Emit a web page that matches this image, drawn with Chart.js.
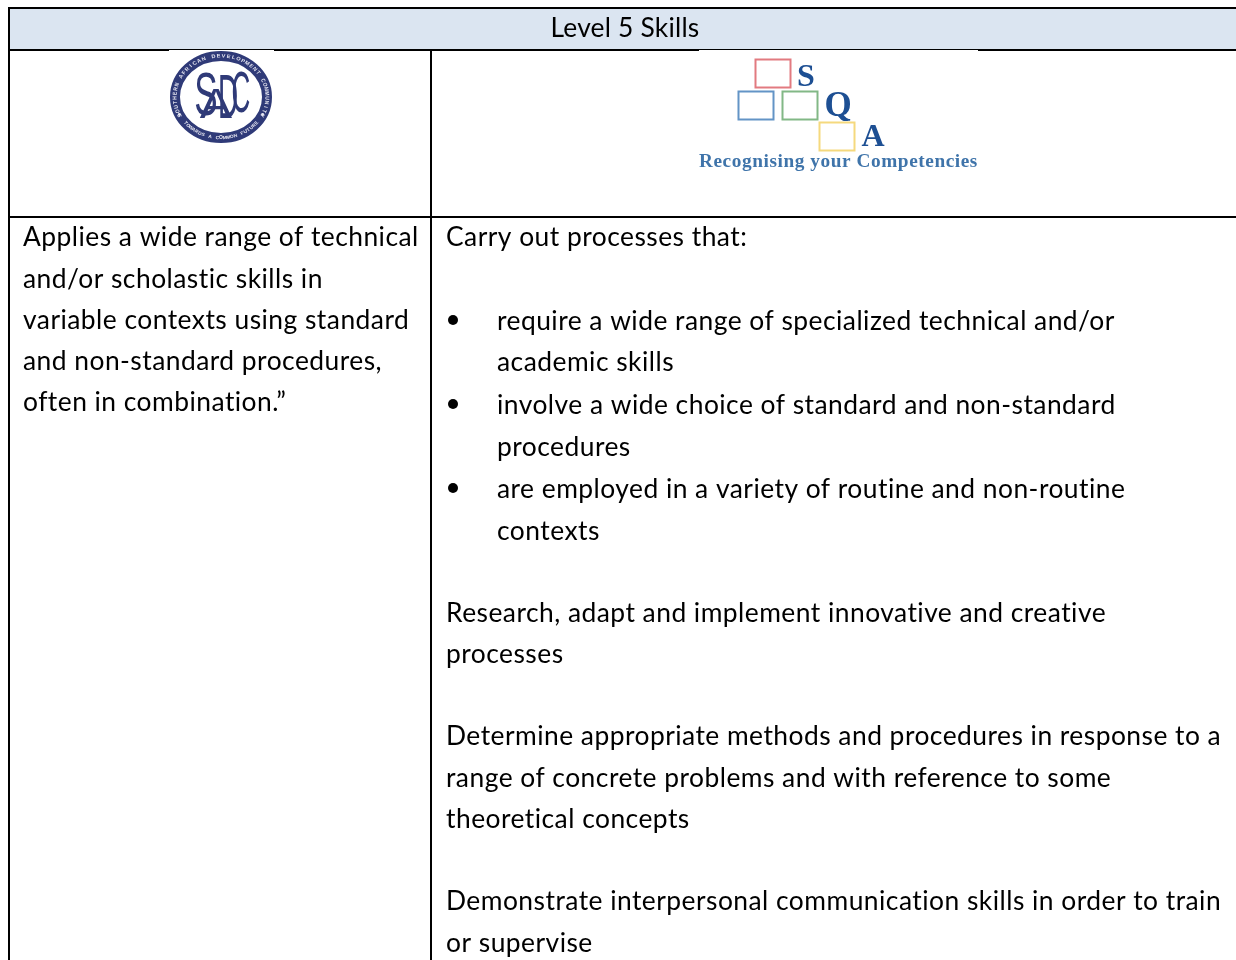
<!DOCTYPE html>
<html>
<head>
<meta charset="utf-8">
<title>Level 5 Skills</title>
<style>
html, body { margin: 0; padding: 0; background: #fff; overflow: hidden; }
#wrap { width: 1236px; height: 960px; }
canvas { display: block; }
</style>
<script src="https://cdn.jsdelivr.net/npm/chart.js@4"></script>
</head>
<body>
<div id="wrap"><canvas id="table" width="1236" height="960"></canvas></div>
<script>
const headerTitle = 'Level 5 Skills';
const leftLines = [
    'Applies a wide range of technical',
    'and/or scholastic skills in',
    'variable contexts using standard',
    'and non-standard procedures,',
    'often in combination.”'
];
const rightLines = [
    'Carry out processes that:',
    'require a wide range of specialized technical and/or',
    'academic skills',
    'involve a wide choice of standard and non-standard',
    'procedures',
    'are employed in a variety of routine and non-routine',
    'contexts',
    'Research, adapt and implement innovative and creative',
    'processes',
    'Determine appropriate methods and procedures in response to a',
    'range of concrete problems and with reference to some',
    'theoretical concepts',
    'Demonstrate interpersonal communication skills in order to train',
    'or supervise'
];
const bulletedLines = [1, 3, 5];
const wrappedLines = [2, 4, 6];
const ringText = 'SOUTHERN AFRICAN DEVELOPMENT COMMUNITY';
const ringMotto = 'TOWARDS A COMMON FUTURE';
const sadcLetters = ['S', 'A', 'D', 'C'];
const sqaLetters = ['S', 'Q', 'A'];
const sqaTagline = 'Recognising your Competencies';

// page layout, in reference pixels
const leftBase = [245.5, 287.5, 328.5, 369.5, 410.5];
const rightBase = [245.5, 329.5, 370.5, 413.5, 455.5, 497.5, 539.5, 621.5, 662.5, 744.5, 786.5, 827.5, 909.5, 951.5];
const BODY_FONT = '26.4px Lato, sans-serif';
const BODY_SPACING = '0.47px';
const rule = { left: 9, top: 8, head: 50, mid: 431, row: 217, right: 1236, bottom: 960 };

function ruleSet(points) {
    return {
        type: 'line',
        data: points,
        borderColor: '#000',
        borderWidth: 2,
        pointRadius: 0,
        clip: false
    };
}

function drawText(ctx, text, x, y, font, color, align, spacing) {
    ctx.font = font;
    ctx.letterSpacing = spacing || '0px';
    ctx.fillStyle = color;
    ctx.textAlign = align || 'left';
    ctx.textBaseline = 'alphabetic';
    ctx.fillText(text, x, y);
}

function ringLabel(ctx, text, r, mid, inward, step, size) {
    ctx.font = 'bold ' + size + 'px "Liberation Sans", sans-serif';
    ctx.letterSpacing = '0px';
    ctx.fillStyle = '#e8e8f2';
    ctx.textAlign = 'center';
    ctx.textBaseline = 'middle';
    const dir = inward ? -1 : 1;
    const start = mid - dir * step * (text.length - 1) / 2;
    for (let i = 0; i < text.length; i++) {
        const a = start + dir * step * i;
        ctx.save();
        ctx.translate(Math.cos(a) * r, Math.sin(a) * r);
        ctx.rotate(a + dir * Math.PI / 2);
        ctx.fillText(text[i], 0, 0);
        ctx.restore();
    }
}

function drawSadc(ctx) {
    const cx = 221, cy = 97;
    ctx.save();
    ctx.filter = 'blur(0.5px)';
    ctx.strokeStyle = '#2f3a78';
    ctx.lineWidth = 10;
    ctx.beginPath();
    ctx.ellipse(cx, cy, 46, 41, 0, 0, Math.PI * 2);
    ctx.stroke();
    ctx.save();
    ctx.translate(cx, cy);
    ctx.scale(1, 0.89);
    ringLabel(ctx, ringText, 46, -Math.PI * 0.5, false, 0.11, 5.6);
    ringLabel(ctx, ringMotto, 46, Math.PI * 0.5, true, 0.08, 5);
    ctx.fillStyle = '#e8e8f2';
    [Math.PI * 0.86, Math.PI * 0.14].forEach(a => {
        ctx.beginPath();
        ctx.arc(Math.cos(a) * 46, Math.sin(a) * 46, 1.5, 0, Math.PI * 2);
        ctx.fill();
    });
    ctx.restore();
    // x, baseline, x stretch, y stretch of each monogram letter
    const marks = [[206, 115, 0.7, 1.24], [216, 118, 0.97, 0.86], [228, 118, 0.56, 1.26], [241, 112, 0.52, 1.15]];
    sadcLetters.forEach((c, i) => {
        ctx.save();
        ctx.translate(marks[i][0], marks[i][1]);
        ctx.scale(marks[i][2], marks[i][3]);
        drawText(ctx, c, 0, 0, '50px "Liberation Sans", sans-serif', '#2f3a78', 'center');
        ctx.restore();
    });
    ctx.restore();
}

function drawSqa(ctx) {
    const squares = [
        [755.5, 59.5, 35, 28, '#e27a80'],
        [738.5, 91.5, 35, 28, '#6394c6'],
        [782.5, 91.5, 35, 28, '#82b886'],
        [819.5, 122.5, 35, 28, '#f5d97e']
    ];
    ctx.save();
    ctx.filter = 'blur(0.4px)';
    ctx.lineWidth = 2;
    squares.forEach(s => {
        ctx.strokeStyle = s[4];
        ctx.strokeRect(s[0], s[1], s[2], s[3]);
    });
    const spots = [[806, 86, 32], [838, 116, 35], [873, 146, 32]];
    sqaLetters.forEach((c, i) => {
        drawText(ctx, c, spots[i][0], spots[i][1], 'bold ' + spots[i][2] + 'px "Liberation Serif", serif', '#1d4f93', 'center');
    });
    drawText(ctx, sqaTagline, 699, 167, 'bold 19.3px "Liberation Serif", serif', '#3f74aa', 'left', '0.57px');
    ctx.restore();
}

const tablePlugin = {
    id: 'tablePage',
    beforeDatasetsDraw(chart) {
        const { ctx, scales: { x, y } } = chart;
        ctx.save();
        ctx.fillStyle = '#dbe5f1';
        ctx.fillRect(x.getPixelForValue(rule.left), y.getPixelForValue(rule.top),
            x.getPixelForValue(rule.right) - x.getPixelForValue(rule.left),
            y.getPixelForValue(rule.head) - y.getPixelForValue(rule.top));
        ctx.restore();
    },
    afterDatasetsDraw(chart) {
        const { ctx } = chart;
        ctx.save();
        // logo pictures sit on a white box that nicks the header rule
        ctx.fillStyle = '#fff';
        ctx.fillRect(169, 50, 105, 2);
        ctx.fillRect(699, 50, 279, 2);
        drawSadc(ctx);
        drawSqa(ctx);

        drawText(ctx, headerTitle, 625, 36.5, BODY_FONT, '#000', 'center', '0.2px');
        leftLines.forEach((t, i) => drawText(ctx, t, 23, leftBase[i], BODY_FONT, '#000', 'left', BODY_SPACING));
        rightLines.forEach((t, i) => {
            const indented = bulletedLines.includes(i) || wrappedLines.includes(i);
            drawText(ctx, t, indented ? 497 : 446, rightBase[i], BODY_FONT, '#000', 'left', BODY_SPACING);
        });
        ctx.restore();
    }
};

new Chart(document.getElementById('table').getContext('2d'), {
    type: 'scatter',
    data: {
        datasets: [
            ruleSet([{ x: rule.left, y: rule.top }, { x: rule.right, y: rule.top }]),
            ruleSet([{ x: rule.left, y: rule.head }, { x: rule.right, y: rule.head }]),
            ruleSet([{ x: rule.left, y: rule.row }, { x: rule.right, y: rule.row }]),
            ruleSet([{ x: rule.left, y: rule.top - 1 }, { x: rule.left, y: rule.bottom }]),
            ruleSet([{ x: rule.mid, y: rule.head }, { x: rule.mid, y: rule.bottom }]),
            {
                type: 'scatter',
                data: bulletedLines.map(i => ({ x: 453, y: rightBase[i] - 9.5 })),
                backgroundColor: '#000',
                borderWidth: 0,
                pointRadius: 5,
                clip: false
            }
        ]
    },
    plugins: [tablePlugin],
    options: {
        responsive: false,
        animation: false,
        maintainAspectRatio: false,
        layout: { padding: 0, autoPadding: false },
        plugins: { legend: { display: false }, tooltip: { enabled: false } },
        scales: {
            x: { type: 'linear', min: 0, max: 1236, display: false },
            y: { type: 'linear', min: 0, max: 960, reverse: true, display: false }
        }
    }
});
</script>
</body>
</html>
